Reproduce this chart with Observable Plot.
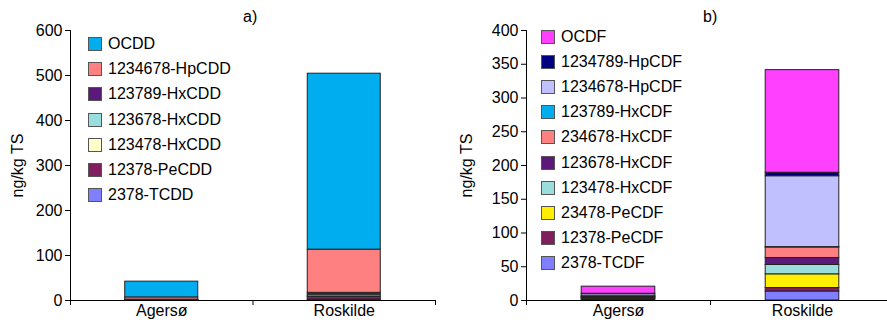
<!DOCTYPE html>
<html>
<head>
<meta charset="utf-8">
<script src="https://cdn.jsdelivr.net/npm/d3@7"></script>
<script src="https://cdn.jsdelivr.net/npm/@observablehq/plot@0.6"></script>
<style>
  html, body { margin: 0; padding: 0; background: #fff; overflow: hidden; }
  #wrap { position: relative; width: 887px; height: 323px; font-family: "Liberation Sans", Arial, sans-serif; color: #000; }
  .panel { position: absolute; top: 0; }
  .panel svg { max-width: none !important; }
  .tag { position: absolute; font-size: 16px; }
  .legend { position: absolute; font-size: 16px; }
  .legend .row { position: absolute; left: 0; white-space: nowrap; display: flex; align-items: center; height: 16px; }
  .legend .sw { width: 12px; height: 12px; border: 1px solid #555; margin-right: 6px; flex: none; }
</style>
</head>
<body>
<div id="wrap"></div>
<script>
// ---- data ----
const sites = ["Agersø", "Roskilde"];

const pcddNames = ["2378-TCDD", "12378-PeCDD", "123478-HxCDD", "123678-HxCDD", "123789-HxCDD", "1234678-HpCDD", "OCDD"];
const pcddAgerso = [0.2, 0.5, 0.2, 0.5, 0.5, 5, 35];
const pcddRoskilde = [2, 6, 1, 4, 4, 96, 391];
const pcddColors = ["#7F7FFF", "#7F1F5F", "#FFFFCC", "#99DDDD", "#5B1A7A", "#FF8080", "#00AEEF"];
const yTicksA = [0, 100, 200, 300, 400, 500, 600];

const pcdfNames = ["2378-TCDF", "12378-PeCDF", "23478-PeCDF", "123478-HxCDF", "123678-HxCDF", "234678-HxCDF", "123789-HxCDF", "1234678-HpCDF", "1234789-HpCDF", "OCDF"];
const pcdfAgerso = [1.5, 1, 1, 1, 0.8, 0.8, 0.2, 3, 0.7, 10.5];
const pcdfRoskilde = [13.3, 5.2, 20.3, 13.8, 10.4, 15.6, 0.5, 105, 5.2, 152];
const pcdfColors = ["#7F7FFF", "#7F1F5F", "#FFEE00", "#99DDDD", "#5B1A7A", "#FF8080", "#00AEEF", "#C0C0FF", "#000080", "#FF40FF"];
const yTicksB = [0, 50, 100, 150, 200, 250, 300, 350, 400];

const yLabel = "ng/kg TS";

// ---- build stacked rows ----
function stackRows(names, seriesBySite) {
  const rows = [];
  seriesBySite.forEach((vals, i) => {
    let acc = 0;
    vals.forEach((v, k) => {
      rows.push({site: i, series: names[k], y1: acc, y2: acc + v});
      acc += v;
    });
  });
  return rows;
}

const FONT = "Liberation Sans, Arial, sans-serif";

function panel({rows, names, colors, ticks, width, marginLeft, marginRight, labelDx}) {
  const ymax = ticks[ticks.length - 1];
  return Plot.plot({
    width, height: 323,
    marginLeft, marginRight, marginTop: 30, marginBottom: 23,
    style: {fontSize: "16px", fontFamily: FONT, color: "#000", background: "transparent", overflow: "visible"},
    x: {domain: [0, sites.length], axis: null},
    y: {domain: [0, ymax], axis: null},
    color: {domain: names, range: colors},
    marks: [
      Plot.rectY(rows, {
        x1: d => d.site + 0.3, x2: d => d.site + 0.7,
        y1: "y1", y2: "y2", fill: "series",
        stroke: "#222", strokeWidth: 1
      }),
      Plot.ruleX([0], {stroke: "#000", strokeWidth: 1}),
      Plot.ruleY([0], {stroke: "#000", strokeWidth: 1}),
      Plot.axisY({ticks, tickSize: 5, tickPadding: 3, label: null, fontSize: 16, stroke: "#000"}),
      Plot.axisX({ticks: d3.range(sites.length + 1), tickSize: 5, tickFormat: () => "", label: null}),
      Plot.axisX({ticks: sites.map((s, i) => i + 0.5), tickSize: 0, tickPadding: 4, fontSize: 16,
        tickFormat: v => sites[Math.round(v - 0.5)], label: null}),
      Plot.text([yLabel], {frameAnchor: "left", textAnchor: "middle", rotate: -90, dx: labelDx, fontSize: 16, fill: "#000"})
    ]
  });
}

const wrap = document.getElementById("wrap");

function addPanel(left, width, svg) {
  const d = document.createElement("div");
  d.className = "panel";
  d.style.left = left + "px";
  d.style.width = width + "px";
  d.appendChild(svg);
  wrap.appendChild(d);
}

addPanel(0, 445, panel({
  rows: stackRows(pcddNames, [pcddAgerso, pcddRoskilde]),
  names: pcddNames, colors: pcddColors, ticks: yTicksA,
  width: 445, marginLeft: 70, marginRight: 10, labelDx: -53
}));

addPanel(445, 450, panel({
  rows: stackRows(pcdfNames, [pcdfAgerso, pcdfRoskilde]),
  names: pcdfNames, colors: pcdfColors, ticks: yTicksB,
  width: 450, marginLeft: 81, marginRight: 1, labelDx: -60
}));

function addTag(text, left, top) {
  const t = document.createElement("div");
  t.className = "tag";
  t.textContent = text;
  t.style.left = left + "px";
  t.style.top = top + "px";
  wrap.appendChild(t);
}
addTag("a)", 243, 8);
addTag("b)", 703, 8);

function addLegend(names, colors, left, top, step) {
  const lg = document.createElement("div");
  lg.className = "legend";
  lg.style.left = left + "px";
  lg.style.top = top + "px";
  const order = names.map((n, i) => i).reverse();
  order.forEach((i, k) => {
    const r = document.createElement("div");
    r.className = "row";
    r.style.top = (k * step) + "px";
    const sw = document.createElement("span");
    sw.className = "sw";
    sw.style.background = colors[i];
    const tx = document.createElement("span");
    tx.textContent = names[i];
    r.appendChild(sw);
    r.appendChild(tx);
    lg.appendChild(r);
  });
  wrap.appendChild(lg);
}
addLegend(pcddNames, pcddColors, 88, 36, 25.2);
addLegend(pcdfNames, pcdfColors, 541, 29, 25.1);
</script>
</body>
</html>
